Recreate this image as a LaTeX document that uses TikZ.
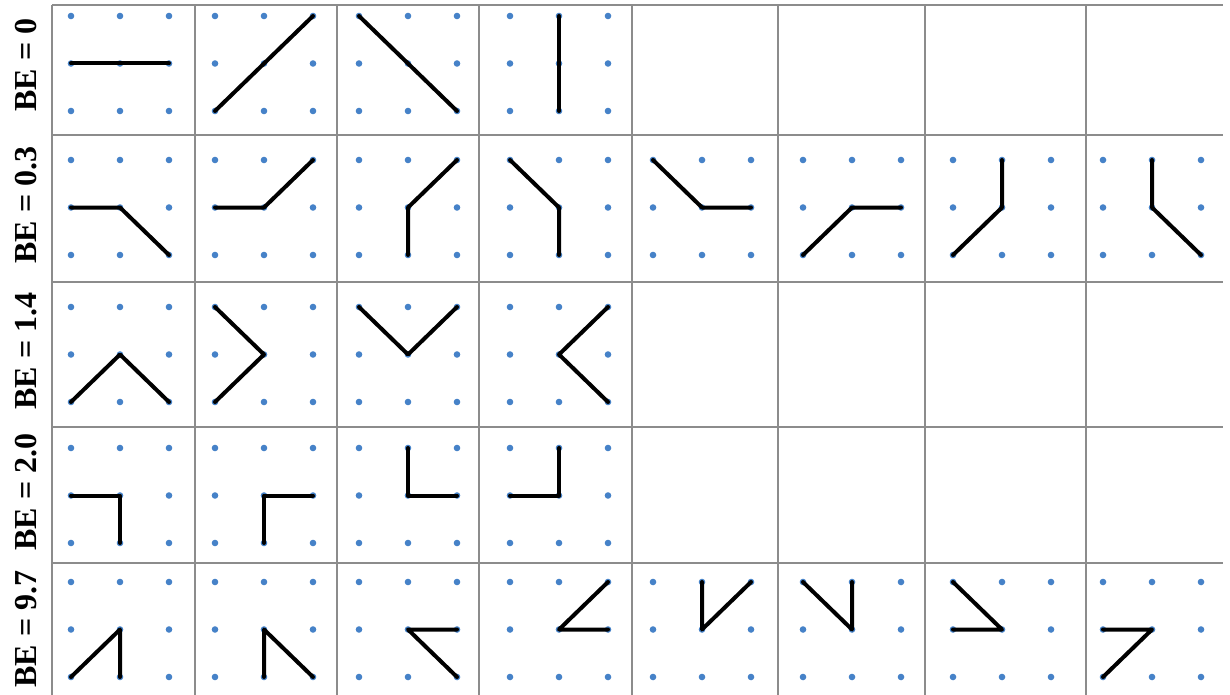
\documentclass[tikz,border=0pt]{standalone}
\usepackage{fontspec}
\setmainfont{Liberation Serif}
\definecolor{dotblue}{RGB}{70,130,200}
\definecolor{gridgray}{RGB}{140,140,140}
\tikzset{
  gridline/.style={draw=gridgray, line width=1.3pt},
  seg/.style={draw=black, line width=4pt, line cap=round, line join=round},
  dotmark/.style={fill=dotblue},
  lbl/.style={font=\fontsize{32}{36}\selectfont\bfseries, rotate=90, inner sep=0pt}
}
\begin{document}
\begin{tikzpicture}[x=1pt,y=-1pt]
\useasboundingbox (0,0) rectangle (1230,695);
\fill[white] (0,0) rectangle (1230,695);
% grid
\foreach \y in {5,135,282,427,563} \draw[gridline] (52,\y) -- (1223,\y);
\foreach \x in {52,195,337,479,632,778,925,1086} \draw[gridline] (\x,5) -- (\x,695);
% labels
\node[lbl] (l1) at (26,65) {BE = 0};
\node[lbl] (l2) at (26,205) {BE = 0.3};
\node[lbl] (l3) at (26,351) {BE = 1.4};
\node[lbl] (l4) at (26,492) {BE = 2.0};
\node[lbl] (l5) at (26,629) {BE = 9.7};
% dot coordinates
\foreach \r/\yy in {1/16,2/160,3/307,4/448,5/582}{
  \foreach \c/\xx in {1/71,2/215,3/359,4/510,5/653,6/803,7/953,8/1103}{
    \foreach \i in {0,1,2}{
      \foreach \j in {0,1,2}{
        \coordinate (p-\r-\c-\i-\j) at ({\xx+49*\i},{\yy+47.5*\j});
      }
    }
  }
}
% dots (rows 1,3,4 only first four columns)
\foreach \r/\n in {1/4,2/8,3/4,4/4,5/8}{
  \foreach \c in {1,...,\n}{
    \foreach \i in {0,1,2}{
      \foreach \j in {0,1,2}{
        \fill[dotmark] (p-\r-\c-\i-\j) circle (3.3pt);
      }
    }
  }
}
% row 1: BE = 0
\draw[seg] (p-1-1-0-1) -- (p-1-1-1-1) -- (p-1-1-2-1);
\draw[seg] (p-1-2-0-2) -- (p-1-2-1-1) -- (p-1-2-2-0);
\draw[seg] (p-1-3-0-0) -- (p-1-3-1-1) -- (p-1-3-2-2);
\draw[seg] (p-1-4-1-0) -- (p-1-4-1-1) -- (p-1-4-1-2);
% row 2: BE = 0.3
\draw[seg] (p-2-1-0-1) -- (p-2-1-1-1) -- (p-2-1-2-2);
\draw[seg] (p-2-2-0-1) -- (p-2-2-1-1) -- (p-2-2-2-0);
\draw[seg] (p-2-3-1-2) -- (p-2-3-1-1) -- (p-2-3-2-0);
\draw[seg] (p-2-4-0-0) -- (p-2-4-1-1) -- (p-2-4-1-2);
\draw[seg] (p-2-5-0-0) -- (p-2-5-1-1) -- (p-2-5-2-1);
\draw[seg] (p-2-6-0-2) -- (p-2-6-1-1) -- (p-2-6-2-1);
\draw[seg] (p-2-7-0-2) -- (p-2-7-1-1) -- (p-2-7-1-0);
\draw[seg] (p-2-8-1-0) -- (p-2-8-1-1) -- (p-2-8-2-2);
% row 3: BE = 1.4
\draw[seg] (p-3-1-0-2) -- (p-3-1-1-1) -- (p-3-1-2-2);
\draw[seg] (p-3-2-0-0) -- (p-3-2-1-1) -- (p-3-2-0-2);
\draw[seg] (p-3-3-0-0) -- (p-3-3-1-1) -- (p-3-3-2-0);
\draw[seg] (p-3-4-2-0) -- (p-3-4-1-1) -- (p-3-4-2-2);
% row 4: BE = 2.0
\draw[seg] (p-4-1-0-1) -- (p-4-1-1-1) -- (p-4-1-1-2);
\draw[seg] (p-4-2-1-2) -- (p-4-2-1-1) -- (p-4-2-2-1);
\draw[seg] (p-4-3-1-0) -- (p-4-3-1-1) -- (p-4-3-2-1);
\draw[seg] (p-4-4-0-1) -- (p-4-4-1-1) -- (p-4-4-1-0);
% row 5: BE = 9.7
\draw[seg] (p-5-1-0-2) -- (p-5-1-1-1) -- (p-5-1-1-2);
\draw[seg] (p-5-2-1-2) -- (p-5-2-1-1) -- (p-5-2-2-2);
\draw[seg] (p-5-3-2-1) -- (p-5-3-1-1) -- (p-5-3-2-2);
\draw[seg] (p-5-4-2-0) -- (p-5-4-1-1) -- (p-5-4-2-1);
\draw[seg] (p-5-5-1-0) -- (p-5-5-1-1) -- (p-5-5-2-0);
\draw[seg] (p-5-6-0-0) -- (p-5-6-1-1) -- (p-5-6-1-0);
\draw[seg] (p-5-7-0-0) -- (p-5-7-1-1) -- (p-5-7-0-1);
\draw[seg] (p-5-8-0-1) -- (p-5-8-1-1) -- (p-5-8-0-2);
\end{tikzpicture}
\end{document}
